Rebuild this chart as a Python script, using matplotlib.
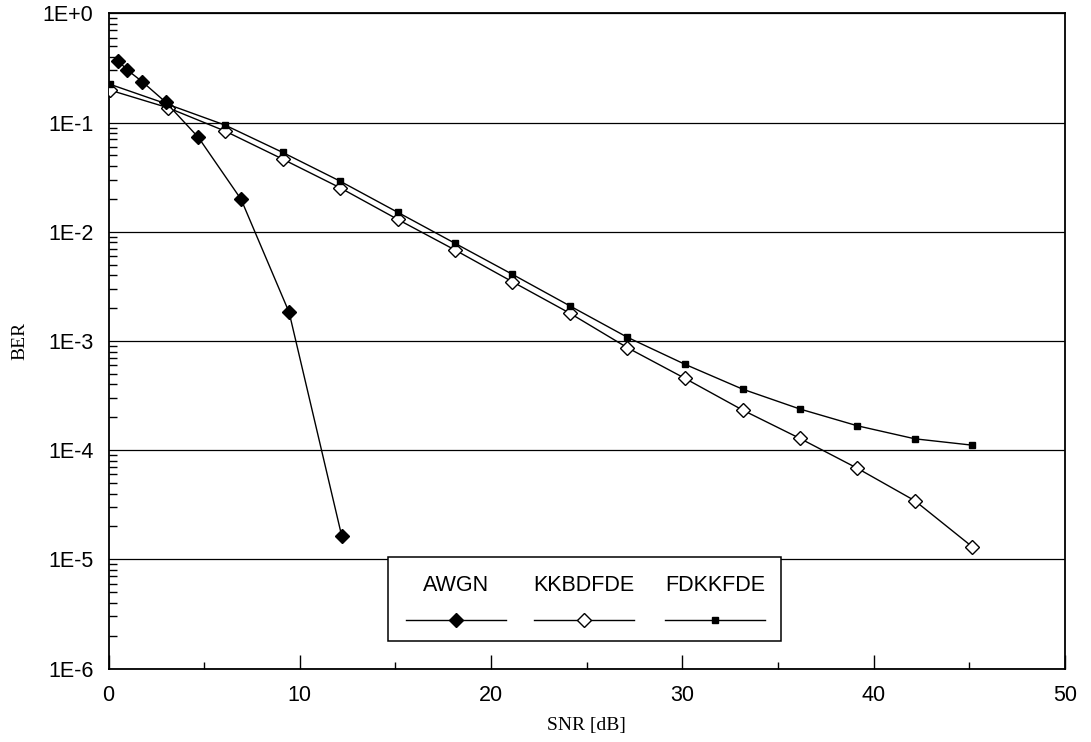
"""
BER vs SNR for AWGN, KKBDFDE and FDKKFDE
"""

import matplotlib
matplotlib.use("Agg")
import matplotlib.pyplot as plt
import matplotlib.ticker as mticker
from matplotlib.lines import Line2D
from matplotlib.patches import Rectangle

awgn_snr = [0.51, 0.98, 1.77, 3.00, 4.70, 6.93, 9.44, 12.19]
awgn_ber = [0.366, 0.303, 0.236, 0.153, 0.073, 0.0198, 0.00183, 1.64e-5]

snr = [0.08, 3.09, 6.09, 9.10, 12.10, 15.11, 18.12, 21.12,
       24.13, 27.13, 30.14, 33.15, 36.15, 39.16, 42.16, 45.17]
kkbdfde_ber = [0.198, 0.137, 0.0836, 0.0463, 0.0253, 0.0130, 0.00680, 0.00348,
               0.00179, 0.000867, 0.000454, 0.000233, 0.000128, 6.81e-5,
               3.44e-5, 1.30e-5]
fdkkfde_ber = [0.224, 0.147, 0.0948, 0.0533, 0.0291, 0.0151, 0.00783, 0.00407,
               0.00209, 0.00108, 0.000611, 0.000362, 0.000238, 0.000167,
               0.000127, 0.000111]

ytick_vals = [1e0, 1e-1, 1e-2, 1e-3, 1e-4, 1e-5, 1e-6]
ytick_labels = ["1E+0", "1E-1", "1E-2", "1E-3", "1E-4", "1E-5", "1E-6"]
legend_names = ["AWGN", "KKBDFDE", "FDKKFDE"]

sans = "Liberation Sans"
serif = "Liberation Serif"

fig = plt.figure(figsize=(10.91, 7.42), dpi=100)
ax = fig.add_axes([0.0995, 0.099, 0.8765, 0.883])

styles = [
    dict(marker="D", ms=7.6, mfc="black", mec="black"),
    dict(marker="D", ms=7.0, mfc="white", mec="black", mew=1.0),
    dict(marker="s", ms=4.6, mfc="black", mec="black"),
]

ax.plot(snr, kkbdfde_ber, color="black", lw=1.0, zorder=3, **styles[1])
ax.plot(snr, fdkkfde_ber, color="black", lw=1.0, zorder=4, **styles[2])
ax.plot(awgn_snr, awgn_ber, color="black", lw=1.0, zorder=5, **styles[0])

ax.set_yscale("log")
ax.set_xlim(0, 50)
ax.set_ylim(1e-6, 1e0)

ax.set_xticks([0, 10, 20, 30, 40, 50])
ax.xaxis.set_minor_locator(mticker.FixedLocator([5, 15, 25, 35, 45]))
ax.set_yticks(ytick_vals)
ax.set_yticklabels(ytick_labels)
ax.yaxis.set_minor_locator(mticker.LogLocator(base=10, subs=range(2, 10)))
ax.yaxis.set_minor_formatter(mticker.NullFormatter())

ax.tick_params(axis="x", which="major", direction="in", length=10, width=1.0,
               pad=12, labelsize=15.5)
ax.tick_params(axis="x", which="minor", direction="in", length=5, width=1.0)
ax.tick_params(axis="y", which="major", direction="in", length=0,
               pad=11, labelsize=15.5)
ax.tick_params(axis="y", which="minor", direction="in", length=6, width=1.0)
for lab in ax.get_xticklabels() + ax.get_yticklabels():
    lab.set_family(sans)

ax.grid(True, axis="y", which="major", color="black", lw=0.9)
ax.set_axisbelow(True)
for sp in ax.spines.values():
    sp.set_linewidth(1.3)
    sp.set_color("black")

ax.set_xlabel("SNR [dB]", family=serif, fontsize=14, labelpad=8)
ax.set_ylabel("BER", family=serif, fontsize=14, labelpad=10)

# legend: names above the sample lines, drawn by hand
ax.add_patch(Rectangle((0.292, 0.042), 0.411, 0.128, transform=ax.transAxes,
                       facecolor="white", edgecolor="black", lw=1.1,
                       zorder=6))
centers = [0.3633, 0.4971, 0.6344]
for name, cx, st in zip(legend_names, centers, styles):
    ax.add_line(Line2D([cx - 0.0525, cx + 0.0525], [0.0745, 0.0745],
                       transform=ax.transAxes, color="black", lw=1.0,
                       zorder=7))
    ax.add_line(Line2D([cx], [0.0745], transform=ax.transAxes, ls="none",
                       zorder=8, **st))
    ax.text(cx, 0.118, name, transform=ax.transAxes, ha="center",
            va="baseline", family=sans, fontsize=15.5, zorder=8)

fig.savefig("out.png", dpi=100)
